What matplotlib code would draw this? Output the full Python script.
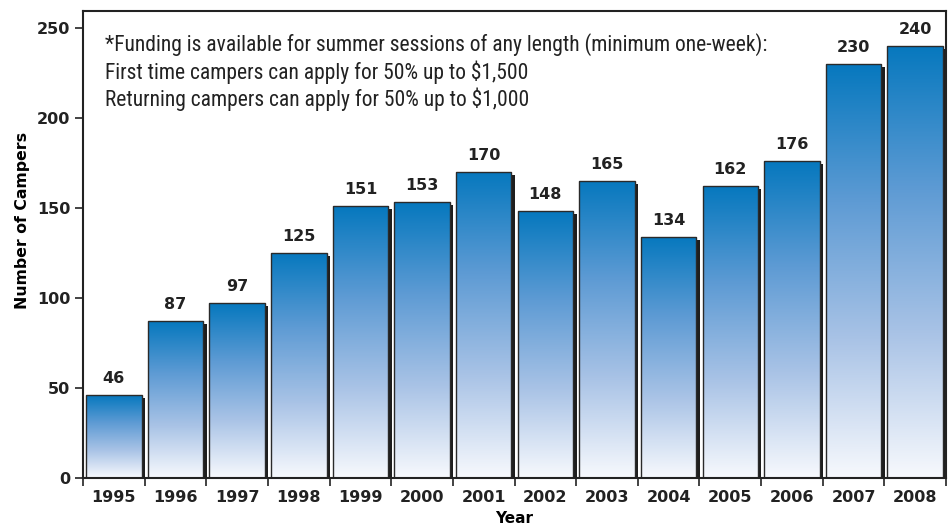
import numpy as np
import matplotlib
matplotlib.use("Agg")
import matplotlib.pyplot as plt
import matplotlib.transforms as mtransforms
from matplotlib.colors import LinearSegmentedColormap
from matplotlib import font_manager

plt.rcParams["font.family"] = ["DejaVu Sans"]

years = ["1995", "1996", "1997", "1998", "1999", "2000", "2001",
         "2002", "2003", "2004", "2005", "2006", "2007", "2008"]
campers = [46, 87, 97, 125, 151, 153, 170, 148, 165, 134, 162, 176, 230, 240]
note_lines = [
    "*Funding is available for summer sessions of any length (minimum one-week):",
    "First time campers can apply for 50% up to $1,500",
    "Returning campers can apply for 50% up to $1,000",
]

# pick a narrow face for the note if one exists
names = {f.name for f in font_manager.fontManager.ttflist}
note_family = "Roboto"
for cand in ["Roboto Condensed", "Liberation Sans Narrow", "Open Sans Condensed",
             "DejaVu Sans Condensed"]:
    if cand in names:
        note_family = cand
        break

fig = plt.figure(figsize=(9.52, 5.27), dpi=100)
ax = fig.add_axes([0.0872, 0.093, 0.9065, 0.887])

cmap = LinearSegmentedColormap.from_list(
    "bar", ["#f7f9fd", "#a9c3e6", "#5e9bd4", "#0678be"])
grad = np.linspace(0, 1, 256).reshape(-1, 1)

x = np.arange(len(years))
bars = ax.bar(x, campers, width=0.9, color="none", edgecolor="#2a2a2a",
              linewidth=1.0, zorder=3)
for b, v in zip(bars, campers):
    # dark drop shadow on the right
    shadow = ax.bar(b.get_x() + b.get_width() / 2, v, width=b.get_width(),
                    color="#1e1e1e", zorder=1)[0]
    shadow.set_transform(ax.transData + mtransforms.ScaledTranslation(
        3.5 / 100, -3 / 100, fig.dpi_scale_trans))
    im = ax.imshow(grad, cmap=cmap, origin="lower", aspect="auto",
                   extent=[b.get_x(), b.get_x() + b.get_width(), 0, v],
                   zorder=2, interpolation="bilinear")
    im.set_clip_path(b)
    ax.text(b.get_x() + b.get_width() / 2, v + 5, str(v), ha="center",
            va="bottom", fontsize=11.5, fontweight="bold", color="#222222",
            family="DejaVu Sans")

ax.set_xlim(-0.5, len(years) - 0.5)
ax.set_ylim(0, 259.6)
ax.set_yticks([0, 50, 100, 150, 200, 250])
ax.set_xticks(x)
ax.set_xticklabels(years)
ax.set_xticks(np.arange(-0.5, len(years)), minor=True)
ax.tick_params(axis="x", which="major", length=0, pad=9)
ax.tick_params(axis="x", which="minor", length=6, width=1.2, color="#222222")
ax.tick_params(axis="y", length=6, width=1.2, color="#222222", pad=3)
for lab in ax.get_xticklabels() + ax.get_yticklabels():
    lab.set_fontsize(11.5)
    lab.set_fontweight("bold")
    lab.set_family("DejaVu Sans")
    lab.set_color("#222222")
for s in ax.spines.values():
    s.set_linewidth(1.5)
    s.set_color("#222222")
    s.set_zorder(5)

ax.set_xlabel("Year", fontsize=11, fontweight="bold", labelpad=4,
              family="DejaVu Sans")
ax.set_ylabel("Number of Campers", fontsize=11.3, fontweight="bold",
              family="DejaVu Sans")
ax.yaxis.set_label_coords(-0.062, 0.55)

ax.text(0.026, 0.951, "\n".join(note_lines), transform=ax.transAxes,
        ha="left", va="top", fontsize=15.5, color="#222222",
        family=note_family, linespacing=1.2)

fig.savefig("out.png", dpi=100)
